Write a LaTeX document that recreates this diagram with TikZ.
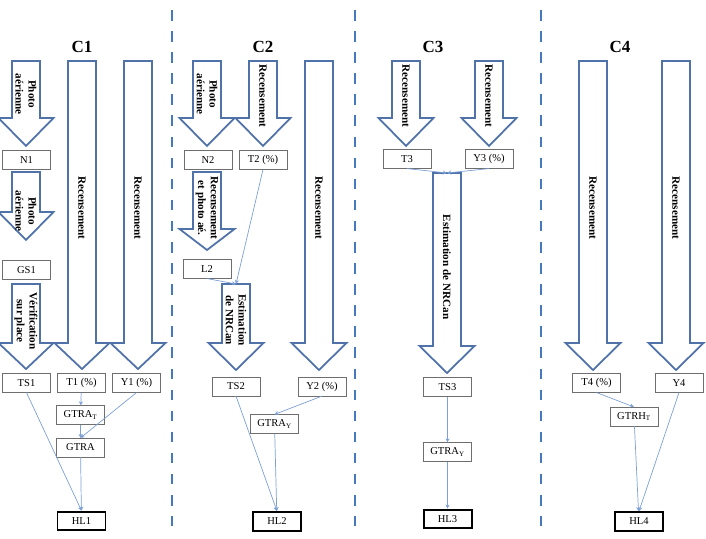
\documentclass[tikz,border=0pt]{standalone}
\usepackage{fontspec}
\setmainfont{Liberation Serif}
\usetikzlibrary{arrows.meta}

\definecolor{arrowblue}{RGB}{79,114,168}
\definecolor{sepblue}{RGB}{70,120,190}
\definecolor{linkblue}{RGB}{125,160,215}
\definecolor{boxgray}{RGB}{110,110,110}

% block arrow: name, x, top, head start, tip, label y, label
\newcommand{\blkarrow}[7]{%
  \draw[blockarrow] (#2-14,#3) -- (#2+14,#3) -- (#2+14,#4) -- (#2+27.5,#4)
    -- (#2,#5) -- (#2-27.5,#4) -- (#2-14,#4) -- cycle;
  \coordinate (#1) at (#2,#3);
  \node[arrowlabel] (#1-txt) at (#2,#6) {#7};
}

\begin{document}
\begin{tikzpicture}[x=0.03cm, y=-0.03cm,
    blockarrow/.style={draw=arrowblue, fill=white, line width=1.5pt, line join=miter},
    arrowlabel/.style={rotate=-90, align=center, inner sep=0pt,
        font=\bfseries\fontsize{9.5}{11}\selectfont},
    box/.style={draw=boxgray, fill=white, minimum width=1.44cm, minimum height=0.56cm,
        inner sep=1pt, font=\fontsize{9}{10}\selectfont},
    hlbox/.style={box, draw=black, line width=1.7pt},
    title/.style={font=\bfseries\fontsize{14.5}{16}\selectfont},
    link/.style={draw=linkblue, line width=0.6pt, -{Stealth[length=3.5pt,width=3.5pt]}},
    sepline/.style={draw=sepblue, line width=2.5pt, dash pattern=on 9pt off 9pt}
]
\useasboundingbox (0,0) rectangle (706,539);

% separators
\draw[sepline] (172,10) -- (172,526);
\draw[sepline] (355,10) -- (355,526);
\draw[sepline] (541,10) -- (541,526);

% C1
\node[title] (t1) at (82,47) {C1};
\blkarrow{a11}{26}{61}{118}{146}{94}{Photo\\aérienne}
\blkarrow{a12}{26}{172}{212}{240}{211}{Photo\\aérienne}
\blkarrow{a13}{26}{284}{343}{369}{321}{Vérification\\sur place}
\blkarrow{a14}{82}{61}{343}{369}{208}{Recensement}
\blkarrow{a15}{138}{61}{343}{369}{208}{Recensement}

\node[box] (N1) at (26.5,160) {N1};
\node[box] (GS1) at (26.5,270) {GS1};
\node[box] (TS1) at (26.5,383) {TS1};
\node[box] (T1) at (81.5,383) {T1 (\%)};
\node[box] (Y1) at (136.5,383) {Y1 (\%)};
\node[box] (GTRAT1) at (80.5,415) {GTRA\textsubscript{T}};
\node[box] (GTRA1) at (80.5,447.5) {GTRA};
\node[hlbox] (HL1) at (81.5,521) {HL1};

\draw[link] (T1) -- (GTRAT1);
\draw[link] (GTRAT1) -- (GTRA1);
\draw[link] (Y1.south) -- (GTRA1.north);
\draw[link] (GTRA1) -- (HL1);
\draw[link] (TS1.south) -- (HL1.north);

% C2
\node[title] (t2) at (263,47) {C2};
\blkarrow{a21}{207}{61}{118}{146}{94}{Photo\\aérienne}
\blkarrow{a22}{263}{61}{118}{146}{96}{Recensement}
\blkarrow{a23}{207}{172}{229}{250}{208}{Recensement\\et photo aé.}
\blkarrow{a24}{236}{284}{343}{370}{320}{Estimation\\de NRCan}
\blkarrow{a25}{319}{61}{343}{370}{208}{Recensement}

\node[box] (N2) at (208,160) {N2};
\node[box] (T2) at (263,160) {T2 (\%)};
\node[box] (L2) at (207,269) {L2};
\node[box] (TS2) at (236,386.5) {TS2};
\node[box] (Y2) at (322,386.5) {Y2 (\%)};
\node[box] (GTRAY2) at (274.5,424) {GTRA\textsubscript{Y}};
\node[hlbox] (HL2) at (277,521.5) {HL2};

\draw[link] (T2.south) -- (a24);
\draw[link] (L2.south) -- (a24);
\draw[link] (Y2.south) -- (GTRAY2.north);
\draw[link] (GTRAY2) -- (HL2);
\draw[link] (TS2.south) -- (HL2.north);

% C3
\node[title] (t3) at (433,47) {C3};
\blkarrow{a31}{406}{61}{118}{146}{96}{Recensement}
\blkarrow{a32}{489}{61}{118}{146}{96}{Recensement}
\blkarrow{a33}{447}{173}{346}{373}{267}{Estimation de NRCan}

\node[box] (T3) at (407,159) {T3};
\node[box] (Y3) at (489,159) {Y3 (\%)};
\node[box] (TS3) at (447.5,387) {TS3};
\node[box] (GTRAY3) at (447.5,452) {GTRA\textsubscript{Y}};
\node[hlbox] (HL3) at (447.5,519) {HL3};

\draw[link] (T3.south) -- (a33);
\draw[link] (Y3.south) -- (a33);
\draw[link] (TS3) -- (GTRAY3);
\draw[link] (GTRAY3) -- (HL3);

% C4
\node[title] (t4) at (620,47) {C4};
\blkarrow{a41}{593}{61}{343}{370}{208}{Recensement}
\blkarrow{a42}{676}{61}{343}{370}{208}{Recensement}

\node[box] (T4) at (596.5,383) {T4 (\%)};
\node[box] (Y4) at (679,383) {Y4};
\node[box] (GTRH4) at (634,416.5) {GTRH\textsubscript{T}};
\node[hlbox] (HL4) at (639,521.5) {HL4};

\draw[link] (T4.south) -- (GTRH4.north);
\draw[link] (GTRH4) -- (HL4);
\draw[link] (Y4.south) -- (HL4.north);

\end{tikzpicture}
\end{document}
